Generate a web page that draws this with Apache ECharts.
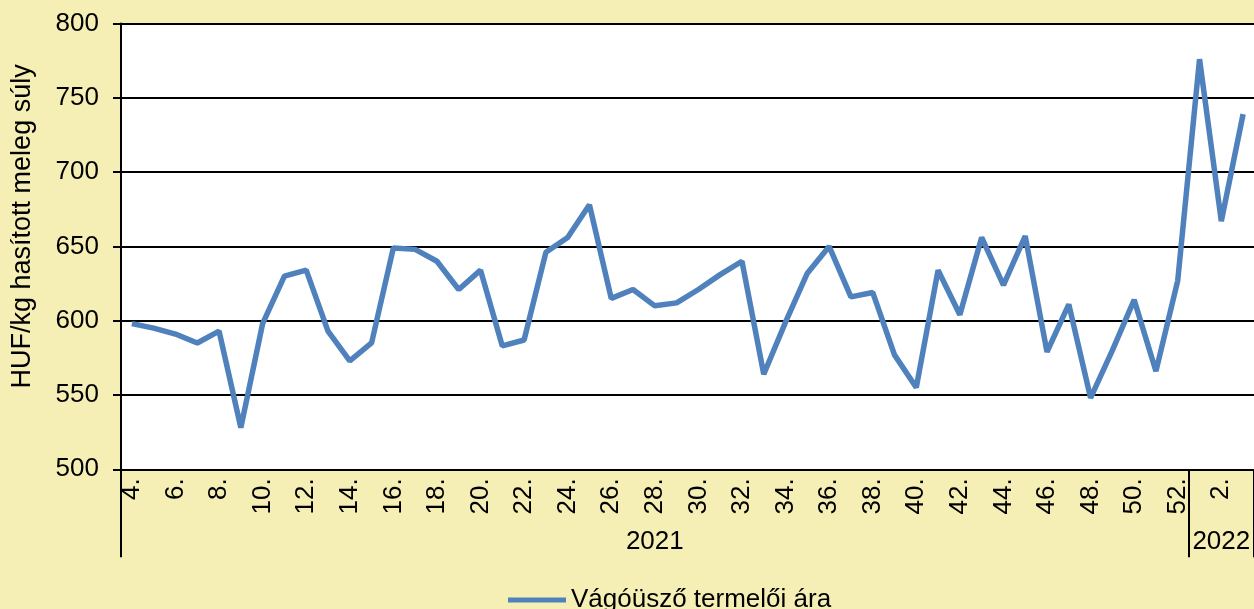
<!DOCTYPE html>
<html>
<head>
<meta charset="utf-8">
<script src="https://cdn.jsdelivr.net/npm/echarts@6/dist/echarts.min.js"></script>
<style>
    html, body { margin: 0; padding: 0; background: #F5EFB5; }
    #chart { width: 1254px; height: 609px; }
</style>
</head>
<body>
<div id="chart"></div>
<script>
    // hetek (2021: 4-52, 2022: 1-3)
    var weeks = ['4.', '5.', '6.', '7.', '8.', '9.', '10.', '11.', '12.', '13.', '14.', '15.', '16.', '17.', '18.', '19.', '20.', '21.', '22.', '23.', '24.', '25.', '26.', '27.', '28.', '29.', '30.', '31.', '32.', '33.', '34.', '35.', '36.', '37.', '38.', '39.', '40.', '41.', '42.', '43.', '44.', '45.', '46.', '47.', '48.', '49.', '50.', '51.', '52.', '1.', '2.', '3.'];
    // termelői ár, HUF/kg
    var price = [598, 595, 591, 585, 593, 528, 598, 630, 634, 593, 573, 585, 649, 648, 640, 621, 634, 583, 587, 646, 656, 678, 615, 621, 610, 612, 621, 631, 640, 564, 599, 632, 650, 616, 619, 577, 555, 634, 604, 656, 624, 657, 579, 611, 548, 580, 614, 566, 627, 776, 667, 739];
    var years = ['2021', '2022'];
    var yearWeeks = [49, 3];
    var yTicks = [500, 800, 50];

    // évcímkék a második tengelyhez
    var yearAxisData = [];
    var yearStarts = [];
    var pos = 0;
    years.forEach(function (y, i) {
        yearStarts.push(pos);
        for (var k = 0; k < yearWeeks[i]; k++) {
            yearAxisData.push(k === Math.floor((yearWeeks[i] - 1) / 2) ? y : '');
        }
        pos += yearWeeks[i];
    });

    var font = 'Liberation Sans, Arial, sans-serif';
    var chart = echarts.init(document.getElementById('chart'));
    var option = {
        backgroundColor: '#F5EFB5',
        animation: false,
        grid: {
            show: true,
            backgroundColor: '#ffffff',
            borderWidth: 0,
            left: 121,
            right: -2,
            top: 23.5,
            bottom: 139.7
        },
        legend: {
            left: 503,
            top: 582,
            icon: 'rect',
            itemWidth: 58,
            itemHeight: 5,
            itemGap: 10,
            textStyle: { fontFamily: font, fontSize: 26, color: '#000' },
            data: ['Vágóüsző termelői ára']
        },
        xAxis: [{
            type: 'category',
            data: weeks,
            boundaryGap: true,
            axisLine: { lineStyle: { color: '#000', width: 2 } },
            axisTick: { show: false },
            axisLabel: {
                interval: 1,
                rotate: 90,
                margin: 9,
                fontFamily: font,
                fontSize: 26,
                color: '#000'
            }
        }, {
            type: 'category',
            data: yearAxisData,
            position: 'bottom',
            boundaryGap: true,
            axisLine: { show: false },
            axisTick: {
                show: true,
                length: 88,
                interval: function (index) {
                    return yearStarts.indexOf(index) >= 0;
                },
                lineStyle: { color: '#000', width: 2 }
            },
            axisLabel: {
                interval: 0,
                margin: 60,
                fontFamily: font,
                fontSize: 26,
                color: '#000'
            }
        }],
        yAxis: {
            type: 'value',
            min: yTicks[0],
            max: yTicks[1],
            interval: yTicks[2],
            name: 'HUF/kg hasított meleg súly',
            nameLocation: 'middle',
            nameGap: 85,
            nameTextStyle: { fontFamily: font, fontSize: 27, color: '#000', padding: [0, 0, 0, 40] },
            axisLine: { show: true, lineStyle: { color: '#000', width: 2 } },
            axisTick: { show: true, length: 8, lineStyle: { color: '#000', width: 2 } },
            axisLabel: { margin: 22, fontFamily: font, fontSize: 26, color: '#000' },
            splitLine: { lineStyle: { color: '#000', width: 2 } }
        },
        series: [{
            name: 'Vágóüsző termelői ára',
            type: 'line',
            data: price,
            symbol: 'none',
            clip: false,
            lineStyle: { color: '#4F81BD', width: 5.5 },
            itemStyle: { color: '#4F81BD' }
        }]
    };
    chart.setOption(option);
</script>
</body>
</html>
